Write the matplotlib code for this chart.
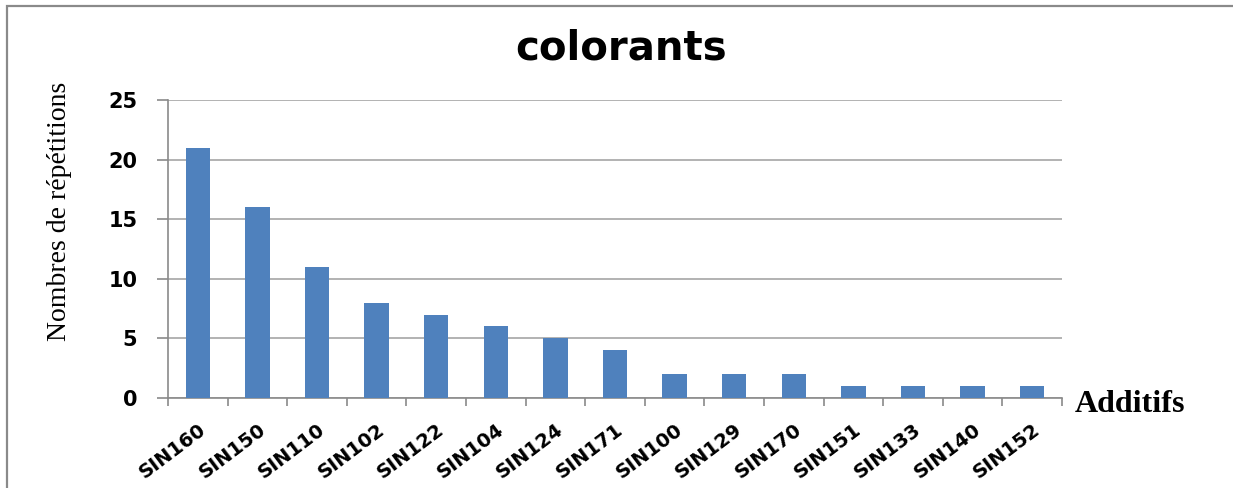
import matplotlib
matplotlib.use("Agg")
import matplotlib.pyplot as plt
from matplotlib.patches import Rectangle
import numpy as np

# Additive codes and how many times each colouring agent was found
additifs = ["SIN160", "SIN150", "SIN110", "SIN102", "SIN122", "SIN104", "SIN124",
            "SIN171", "SIN100", "SIN129", "SIN170", "SIN151", "SIN133", "SIN140", "SIN152"]
repetitions = [21, 16, 11, 8, 7, 6, 5, 4, 2, 2, 2, 1, 1, 1, 1]
y_ticks = [0, 5, 10, 15, 20, 25]

W, H = 1233, 488
fig = plt.figure(figsize=(W / 100, H / 100), dpi=100)
fig.patch.set_facecolor("white")

# Outer chart frame
fig.patches.append(Rectangle((7 / W, -0.1), 1.2, 1 - 6 / H + 0.1,
                             transform=fig.transFigure, fill=False,
                             edgecolor="#8a8a8a", linewidth=1.6))

ax = fig.add_axes([168 / W, 1 - 398 / H, (1062 - 168) / W, (398 - 100) / H])

x = np.arange(len(additifs))
ax.bar(x, repetitions, width=0.41, color="#4f81bd", zorder=3)

ax.set_xlim(-0.5, len(additifs) - 0.5)
ax.set_ylim(0, 25)
ax.set_yticks(y_ticks)
ax.set_yticklabels([str(v) for v in y_ticks], fontsize=15, fontweight="bold",
                   family="DejaVu Sans")
ax.yaxis.grid(True, color="#a6a6a6", linewidth=1.2, zorder=0)
ax.set_axisbelow(True)

ax.set_xticks(x)
ax.set_xticklabels(additifs, rotation=37, ha="right", rotation_mode="anchor",
                   fontsize=14, fontweight="bold", family="DejaVu Sans")
ax.set_xticks(np.arange(-0.5, len(additifs)), minor=True)
ax.tick_params(axis="x", which="major", length=0, pad=16)
ax.tick_params(axis="x", which="minor", length=6, width=1.2, color="#8a8a8a")
ax.tick_params(axis="y", which="major", length=8, width=1.2, color="#8a8a8a", pad=14)

for side in ("top", "right"):
    ax.spines[side].set_visible(False)
for side in ("left", "bottom"):
    ax.spines[side].set_color("#8a8a8a")
    ax.spines[side].set_linewidth(1.2)

fig.text(621 / W, 1 - 49 / H, "colorants", ha="center", va="center",
         fontsize=29, fontweight="bold", family="DejaVu Sans")
fig.text(60 / W, 1 - 211 / H, "Nombres de répétitions", rotation=90,
         ha="center", va="center", fontsize=20, family="Liberation Serif")
fig.text(1075 / W, 1 - 404 / H, "Additifs", ha="left", va="center",
         fontsize=23, fontweight="bold", family="Liberation Serif")

fig.savefig("out.png", dpi=100, facecolor="white")
